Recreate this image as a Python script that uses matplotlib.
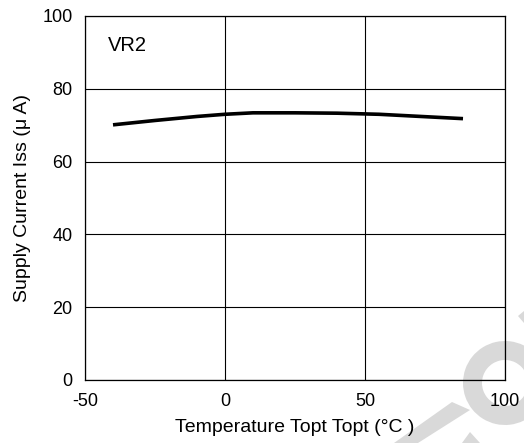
import matplotlib
matplotlib.use("Agg")
import matplotlib.pyplot as plt
from matplotlib.patches import Wedge, Polygon

plt.rcParams['font.family'] = ['Liberation Sans', 'DejaVu Sans']
plt.rcParams['axes.unicode_minus'] = False

# Data
temps = [-40, -25, -10, 0, 10, 25, 40, 55, 70, 85]
iss = [70.1, 71.3, 72.4, 73.0, 73.4, 73.4, 73.3, 73.0, 72.4, 71.8]
x_ticks = [-50, 0, 50, 100]
y_ticks = [0, 20, 40, 60, 80, 100]
label_text = "VR2"

W, H = 524, 443
fig = plt.figure(figsize=(W / 100, H / 100), dpi=100)

# watermark layer (pixel coordinates)
wm = fig.add_axes([0, 0, 1, 1], zorder=0)
wm.set_xlim(0, W)
wm.set_ylim(H, 0)
wm.axis('off')
wm_col = '#d9d9d9'
wm.add_patch(Wedge((505, 383), 42, 25, 335, width=19, color=wm_col, lw=0))
wm.add_patch(Polygon([(394, 443), (418, 443), (470, 410), (452, 402)], closed=True, color=wm_col, lw=0))
wm.add_patch(Polygon([(462, 443), (470, 432), (480, 443)], closed=True, color=wm_col, lw=0))
wm.add_patch(Polygon([(518, 316), (530, 306), (530, 330)], closed=True, color=wm_col, lw=0))

ax = fig.add_axes([85 / W, 1 - 380 / H, 420 / W, 364 / H], zorder=1)
ax.set_facecolor('none')
ax.plot(temps, iss, color='black', lw=2.6, solid_capstyle='butt')

ax.set_xlim(-50, 100)
ax.set_ylim(0, 100)
ax.set_xticks(x_ticks)
ax.set_yticks(y_ticks)
ax.grid(True, color='black', lw=0.8)
ax.tick_params(length=0, labelsize=13, pad=9)
for s in ax.spines.values():
    s.set_linewidth(0.9)
    s.set_color('black')

ax.set_xlabel("Temperature Topt Topt (°C )", fontsize=14, labelpad=7)
ax.set_ylabel("Supply Current Iss (μ A)", fontsize=14, labelpad=8)
ax.text(0.055, 0.92, label_text, transform=ax.transAxes, fontsize=14.5, va='center', ha='left')

fig.savefig("out.png", dpi=100)
